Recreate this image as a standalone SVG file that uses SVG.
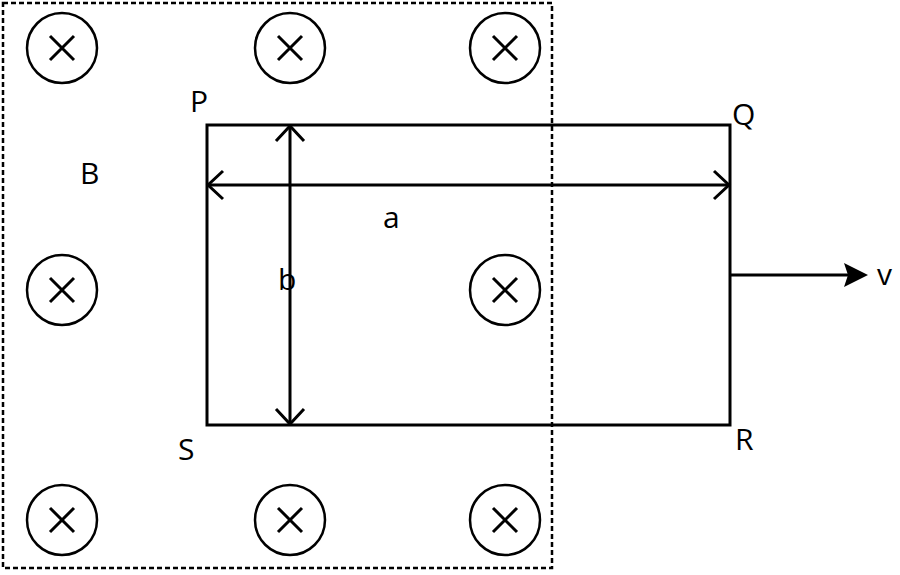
<svg xmlns="http://www.w3.org/2000/svg" width="900" height="575" viewBox="0 0 900 575">
<style>
.c{fill:none;stroke:#000;stroke-width:2.5}
.x{stroke:#000;stroke-width:3}
.l{stroke:#000;stroke-width:3;fill:none}
.h{stroke:#000;stroke-width:3;fill:none}
text{font-family:"Open Sans","Liberation Sans",sans-serif;font-size:30px;fill:#000}
</style>
<defs>
<g id="fx"><circle class="c" r="35"/><path class="x" d="M-12,-12L12,12M12,-12L-12,12"/></g>
</defs>
<rect x="3" y="3" width="549" height="565" fill="none" stroke="#000" stroke-width="2.5" stroke-dasharray="5,3"/>
<g id="fields">
<use href="#fx" x="62" y="48"/><use href="#fx" x="290" y="48"/><use href="#fx" x="505" y="48"/>
<use href="#fx" x="62" y="290"/><use href="#fx" x="505" y="290"/>
<use href="#fx" x="62" y="520"/><use href="#fx" x="290" y="520"/><use href="#fx" x="505" y="520"/>
</g>
<g id="loop"><rect x="207" y="125" width="523" height="300" class="l"/></g>
<g id="connectors">
<path class="l" d="M207,185H730M290,125V425"/>
<path class="h" d="M223,171L208,185L223,199M714,171L729,185L714,199M276,141L290,126L304,141M276,409L290,424L304,409"/>
<path class="l" d="M730,275H850"/>
<path d="M868,275L844,263L848,275L844,287Z" fill="#000"/>
</g>
<text x="190" y="112">P</text><text x="732" y="125">Q</text>
<text x="80" y="184">B</text><text x="383" y="228">a</text>
<text x="278" y="290">b</text><text x="877" y="285">v</text>
<text x="178" y="460">S</text><text x="735" y="450">R</text>
</svg>
